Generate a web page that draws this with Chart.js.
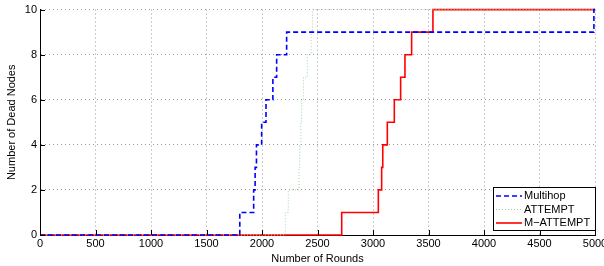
<!DOCTYPE html>
<html>
<head>
<meta charset="utf-8">
<script src="https://cdn.jsdelivr.net/npm/chart.js@4/dist/chart.umd.min.js"></script>
<style>
  html, body { margin: 0; padding: 0; background: #fff; }
  canvas { display: block; }
</style>
</head>
<body>
<canvas id="deadNodes" width="604" height="266"></canvas>
<script>
// step points: x = round where the count changes, y = new count
const multihopX = [0, 1800, 1925, 1938, 1950, 1997, 2036, 2098, 2132, 2222, 4990, 5000];
const multihopY = [0, 1, 2, 3, 4, 5, 6, 7, 8, 9, 10, 10];
const attemptX = [0, 2210, 2237, 2333, 2340, 2350, 2357, 2373, 2408, 2443, 2455, 5000];
const attemptY = [0, 1, 2, 3, 4, 5, 6, 7, 8, 9, 10, 10];
const mattemptX = [0, 2718, 3048, 3078, 3088, 3129, 3192, 3249, 3288, 3348, 3540, 5000];
const mattemptY = [0, 1, 2, 3, 4, 5, 6, 7, 8, 9, 10, 10];
const xTicks = [0, 500, 1000, 1500, 2000, 2500, 3000, 3500, 4000, 4500, 5000];
const yTicks = [0, 2, 4, 6, 8, 10];

const FONT = 'Liberation Sans, Arial, Helvetica, sans-serif';

function toPoints(xs, ys) {
    return xs.map((x, i) => ({ x: x, y: ys[i] }));
}

// MATLAB-style inward tick marks
const inwardTicks = {
    id: 'inwardTicks',
    afterDatasetsDraw(chart) {
        const ctx = chart.ctx;
        const area = chart.chartArea;
        const xs = chart.scales.x, ys = chart.scales.y;
        ctx.save();
        ctx.strokeStyle = '#000';
        ctx.lineWidth = 1;
        ctx.beginPath();
        xTicks.forEach(v => {
            const px = Math.round(xs.getPixelForValue(v)) + 0.5;
            ctx.moveTo(px, area.bottom);
            ctx.lineTo(px, area.bottom - 5);
        });
        yTicks.forEach(v => {
            const py = Math.round(ys.getPixelForValue(v)) + 0.5;
            ctx.moveTo(area.left, py);
            ctx.lineTo(area.left + 5, py);
        });
        ctx.stroke();
        ctx.restore();
    }
};

// legend box in the lower right corner
const boxLegend = {
    id: 'boxLegend',
    afterDraw(chart) {
        const ctx = chart.ctx;
        const left = 493, top = 187, right = 596, bottom = 231;
        ctx.save();
        ctx.fillStyle = '#fff';
        ctx.fillRect(left, top, right - left, bottom - top);
        ctx.strokeStyle = '#000';
        ctx.lineWidth = 1;
        ctx.strokeRect(left + 0.5, top + 0.5, right - left - 1, bottom - top - 1);
        ctx.font = '11px ' + FONT;
        ctx.textBaseline = 'middle';
        ctx.fillStyle = '#000';
        chart.data.datasets.forEach((ds, i) => {
            const y = top + 9 + i * 13.5;
            ctx.strokeStyle = ds.borderColor;
            ctx.lineWidth = ds.borderWidth;
            ctx.setLineDash(ds.borderDash || []);
            ctx.beginPath();
            ctx.moveTo(left + 3, y);
            ctx.lineTo(left + 29, y);
            ctx.stroke();
            ctx.setLineDash([]);
            ctx.fillText(ds.label, left + 31, y);
        });
        ctx.restore();
    }
};

const ctx = document.getElementById('deadNodes').getContext('2d');
const deadChart = new Chart(ctx, {
    type: 'line',
    data: {
        datasets: [{
            label: 'Multihop',
            data: toPoints(multihopX, multihopY),
            borderColor: '#0000ff',
            borderWidth: 1.6,
            borderDash: [5, 3],
            stepped: 'before',
            pointRadius: 0,
            fill: false
        }, {
            label: 'ATTEMPT',
            data: toPoints(attemptX, attemptY),
            borderColor: '#9fd49f',
            borderWidth: 1,
            borderDash: [1, 2],
            stepped: 'before',
            pointRadius: 0,
            fill: false
        }, {
            label: 'M\u2212ATTEMPT',
            data: toPoints(mattemptX, mattemptY),
            borderColor: '#ff0000',
            borderWidth: 1.6,
            stepped: 'before',
            pointRadius: 0,
            fill: false
        }]
    },
    options: {
        responsive: false,
        animation: false,
        events: [],
        clip: 3,
        layout: { padding: { top: 8, right: 9, left: 0, bottom: 0 } },
        plugins: {
            legend: { display: false },
            tooltip: { enabled: false }
        },
        scales: {
            x: {
                type: 'linear',
                min: 0,
                max: 5000,
                afterBuildTicks: s => { s.ticks = xTicks.map(v => ({ value: v })); },
                afterFit: s => { s.height = 31; s.paddingLeft = 0; s.paddingRight = 0; },
                ticks: {
                    color: '#000',
                    font: { family: FONT, size: 11 },
                    padding: 2,
                    maxRotation: 0,
                    autoSkip: false,
                    callback: v => String(v)
                },
                grid: { color: '#9a9a9a', lineWidth: 1, drawTicks: false },
                border: { color: '#000', width: 1, dash: [1, 3] },
                title: {
                    display: true,
                    text: 'Number of Rounds',
                    color: '#000',
                    font: { family: FONT, size: 11 },
                    padding: { top: 0, bottom: 0 }
                }
            },
            y: {
                type: 'linear',
                min: 0,
                max: 10,
                afterBuildTicks: s => { s.ticks = yTicks.map(v => ({ value: v })); },
                afterFit: s => { s.width = 40; },
                ticks: {
                    color: '#000',
                    font: { family: FONT, size: 11 },
                    padding: 3,
                    callback: v => String(v)
                },
                grid: { color: '#9a9a9a', lineWidth: 1, drawTicks: false },
                border: { color: '#000', width: 1, dash: [1, 3] },
                title: {
                    display: true,
                    text: 'Number of Dead Nodes',
                    color: '#000',
                    font: { family: FONT, size: 11 },
                    padding: { top: 5, bottom: 0 }
                }
            }
        }
    },
    plugins: [inwardTicks, boxLegend]
});
</script>
</body>
</html>
